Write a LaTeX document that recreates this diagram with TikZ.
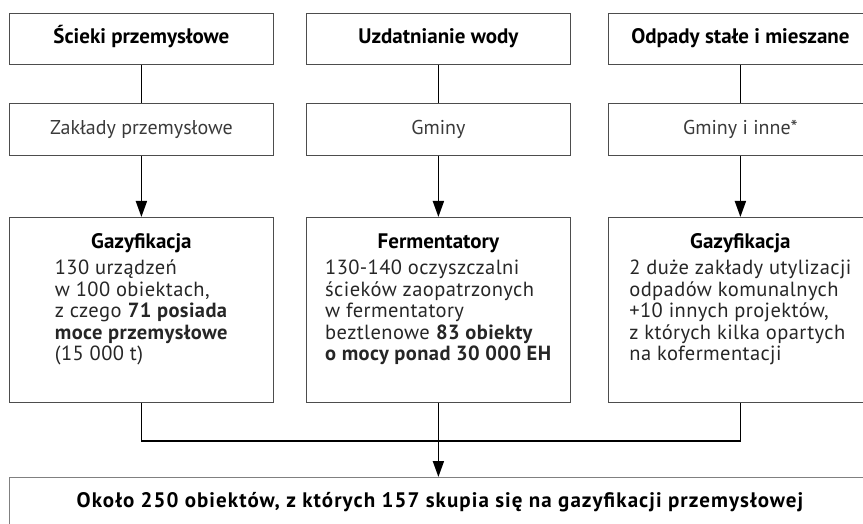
\documentclass[tikz,border=0pt]{standalone}
\usepackage{fontspec}
\setmainfont{PT Sans}
\usetikzlibrary{arrows.meta,calc}
\definecolor{framegray}{HTML}{4D4D4D}
\definecolor{lowgray}{HTML}{808080}
\definecolor{softtext}{HTML}{3A3A3A}
\definecolor{bodyink}{HTML}{262626}
\begin{document}
\begin{tikzpicture}[x=1pt,y=-1pt,
  frame/.style={draw=framegray, line width=0.8pt, inner sep=0pt, anchor=north west,
    minimum width=264pt},
  toprow/.style={frame, minimum height=51pt},
  midrow/.style={frame, minimum height=52pt},
  lowrow/.style={frame, minimum height=185pt},
  headtxt/.style={font=\fontsize{21}{21.5}\selectfont\bfseries, inner sep=0pt, anchor=base},
  sumtxt/.style={font=\fontsize{21}{21.5}\selectfont\bfseries\addfontfeatures{LetterSpace=5}, inner sep=0pt, anchor=base},
  subtxt/.style={font=\fontsize{20}{21.5}\selectfont, text=softtext, inner sep=0pt, anchor=base},
  bodytxt/.style={font=\fontsize{20.5}{21.5}\selectfont\addfontfeatures{LetterSpace=2}, text=bodyink, align=left, inner sep=0pt, anchor=north},
  link/.style={line width=1.8pt, black},
  flow/.style={link, -{Triangle[length=16pt,width=11pt]}}
]
\useasboundingbox (0,0) rectangle (863,524);

% top row: categories
\node[toprow] (c1) at (9,13) {};
\node[toprow] (c2) at (306,13) {};
\node[toprow] (c3) at (608,13) {};
\node[headtxt] (c1t) at ($(c1.north)+(0,31)$) {Ścieki przemysłowe};
\node[headtxt] (c2t) at ($(c2.north)+(0,31)$) {Uzdatnianie wody};
\node[headtxt] (c3t) at ($(c3.north)+(0,31)$) {Odpady stałe i mieszane};

% middle row: operators
\node[midrow] (o1) at (9,103) {};
\node[midrow] (o2) at (306,103) {};
\node[midrow] (o3) at (608,103) {};
\node[subtxt] (o1t) at ($(o1.north)+(0,32)$) {Zakłady przemysłowe};
\node[subtxt] (o2t) at ($(o2.north)+(0,32)$) {Gminy};
\node[subtxt] (o3t) at ($(o3.north)+(0,32)$) {Gminy i inne*};

% lower row: technologies
\node[lowrow] (t1) at (9,217) {};
\node[lowrow] (t2) at (306,217) {};
\node[lowrow] (t3) at (608,217) {};
\node[headtxt] (t1h) at ($(t1.north)+(0,31)$) {Gazyfikacja};
\node[headtxt] (t2h) at ($(t2.north)+(0,31)$) {Fermentatory};
\node[headtxt] (t3h) at ($(t3.north)+(0,31)$) {Gazyfikacja};
\node[bodytxt] (t1b) at ($(t1.north)+(0,43)$) {130 urządzeń\\ w 100 obiektach,\\ z czego \textbf{71 posiada}\\ \textbf{moce przemysłowe}\\ (15 000 t)};
\node[bodytxt] (t2b) at ($(t2.north)+(0,43)$) {130-140 oczyszczalni\\ ścieków zaopatrzonych\\ w fermentatory\\ beztlenowe \textbf{83 obiekty}\\ \textbf{o mocy ponad 30 000 EH}};
\node[bodytxt] (t3b) at ($(t3.north)+(0,43)$) {2 duże zakłady utylizacji\\ odpadów komunalnych\\ +10 innych projektów,\\ z których kilka opartych\\ na kofermentacji};

% summary
\node[draw=lowgray, line width=1.4pt, inner sep=0pt, anchor=north west,
  minimum width=862pt, minimum height=47pt] (sum) at (9,477) {};
\node[sumtxt] (sumt) at (440,507) {Około 250 obiektów, z których 157 skupia się na gazyfikacji przemysłowej};

% connectors
\draw[link] (c1.south) -- (o1.north);
\draw[link] (c2.south) -- (o2.north);
\draw[link] (c3.south) -- (o3.north);
\draw[flow] (o1.south) -- (t1.north);
\draw[flow] (o2.south) -- (t2.north);
\draw[flow] (o3.south) -- (t3.north);
\draw[link] (t1.south) -- ++(0,38) -| (t3.south);
\draw[flow] (t2.south) -- (t2.south |- sum.north);
\end{tikzpicture}
\end{document}
